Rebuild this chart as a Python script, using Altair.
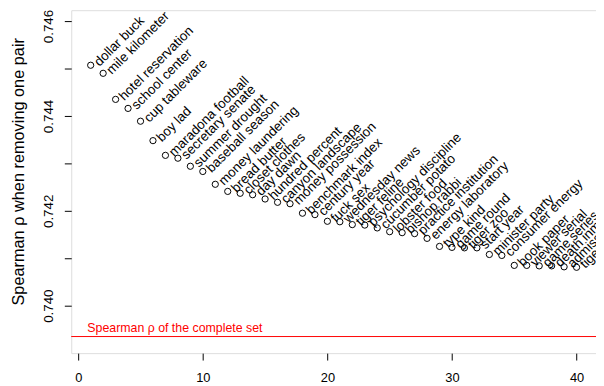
import altair as alt
import pandas as pd

# ---- data ----
pairs = [
    "dollar buck", "mile kilometer", "hotel reservation", "school center",
    "cup tableware", "boy lad", "maradona football", "secretary senate",
    "summer drought", "baseball season", "money laundering", "bread butter",
    "closet clothes", "day dawn", "hundred percent", "canyon landscape",
    "money possession", "benchmark index", "century year", "fuck sex",
    "wednesday news", "tiger feline", "psychology discipline", "cucumber potato",
    "lobster food", "bishop rabbi", "practice institution", "energy laboratory",
    "type kind", "game round", "tiger zoo", "start year",
    "minister party", "consumer energy", "book paper", "viewer serial",
    "game series", "death inmate", "admission ticket", "tiger cat",
]
rho = [
    0.74507, 0.74490, 0.74435, 0.74416, 0.74389, 0.74348, 0.74317, 0.74311,
    0.74294, 0.74283, 0.74256, 0.74241, 0.74237, 0.74234, 0.74225, 0.74218,
    0.74215, 0.74195, 0.74192, 0.74178, 0.74177, 0.74171, 0.74170, 0.74164,
    0.74156, 0.74154, 0.74152, 0.74142, 0.74125, 0.74123, 0.74122, 0.74122,
    0.74108, 0.74106, 0.74085, 0.74085, 0.74084, 0.74084, 0.74082, 0.74081,
]
rank = list(range(1, len(pairs) + 1))
complete_rho = [0.73935]
complete_label = ["Spearman \u03c1 of the complete set"]
complete_label_x = [0.73]
x_ticks = [0, 10, 20, 30, 40]
y_ticks = [0.740, 0.741, 0.742, 0.743, 0.744, 0.745, 0.746]

df = pd.DataFrame({"idx": rank, "rho": rho, "pair": pairs})
ref = pd.DataFrame({"rho": complete_rho, "label": complete_label, "x": complete_label_x})

FONT = "Liberation Sans"

xscale = alt.Scale(domain=[-0.56, 41.56], nice=False, zero=False)
yscale = alt.Scale(domain=[0.7390, 0.74623], nice=False, zero=False)

xaxis = alt.Axis(values=x_ticks, format="d", tickSize=7, grid=False, domain=False,
                 labelBaseline="top", labelPadding=12, labelFontSize=13,
                 labelFont=FONT, labelColor="black", tickColor="black", title=None)
yaxis = alt.Axis(values=y_ticks,
                 labelExpr="round(datum.value*1000) % 2 == 0 ? format(datum.value, '.3f') : ''",
                 labelOffset=alt.condition("datum.value > 0.7455", alt.value(5), alt.value(0)),
                 tickSize=7, grid=False, domain=False, labelAngle=270,
                 labelAlign="center", labelBaseline="bottom", labelPadding=9,
                 labelFontSize=13.5, labelFont=FONT, labelColor="black", tickColor="black",
                 title="Spearman \u03c1 when removing one pair", titleAngle=270,
                 titleX=-53, titleY=163, titleBaseline="middle", titleAlign="center",
                 titleFont=FONT, titleFontSize=16.5, titleFontWeight="normal", titleColor="black")

points = alt.Chart(df).mark_point(shape="circle", filled=False, size=40,
                                  strokeWidth=1, color="black", opacity=1).encode(
    x=alt.X("idx:Q", scale=xscale, axis=xaxis),
    y=alt.Y("rho:Q", scale=yscale, axis=yaxis),
)

labels = alt.Chart(df).mark_text(angle=315, align="left", baseline="middle",
                                 xOffset=6, yOffset=-1, fontSize=13.5, font=FONT,
                                 color="black", clip=True).encode(
    x=alt.X("idx:Q", scale=xscale),
    y=alt.Y("rho:Q", scale=yscale),
    text="pair:N",
)

rule = alt.Chart(ref).mark_rule(color="red", strokeWidth=1).encode(
    y=alt.Y("rho:Q", scale=yscale),
)

ref_text = alt.Chart(ref).mark_text(align="left", baseline="alphabetic", dy=-5,
                                    fontSize=12.5, font=FONT, color="red").encode(
    x=alt.X("x:Q", scale=xscale),
    y=alt.Y("rho:Q", scale=yscale),
    text="label:N",
)

chart = alt.layer(rule, ref_text, points, labels).properties(
    width=531, height=347,
    autosize=alt.AutoSizeParams(type="none"),
    padding={"left": 64, "top": 0, "right": 0, "bottom": 30},
).configure_view(stroke="black", strokeWidth=1).configure(background="white")

chart.save("out.html", embed_options={"renderer": "svg", "actions": False})
